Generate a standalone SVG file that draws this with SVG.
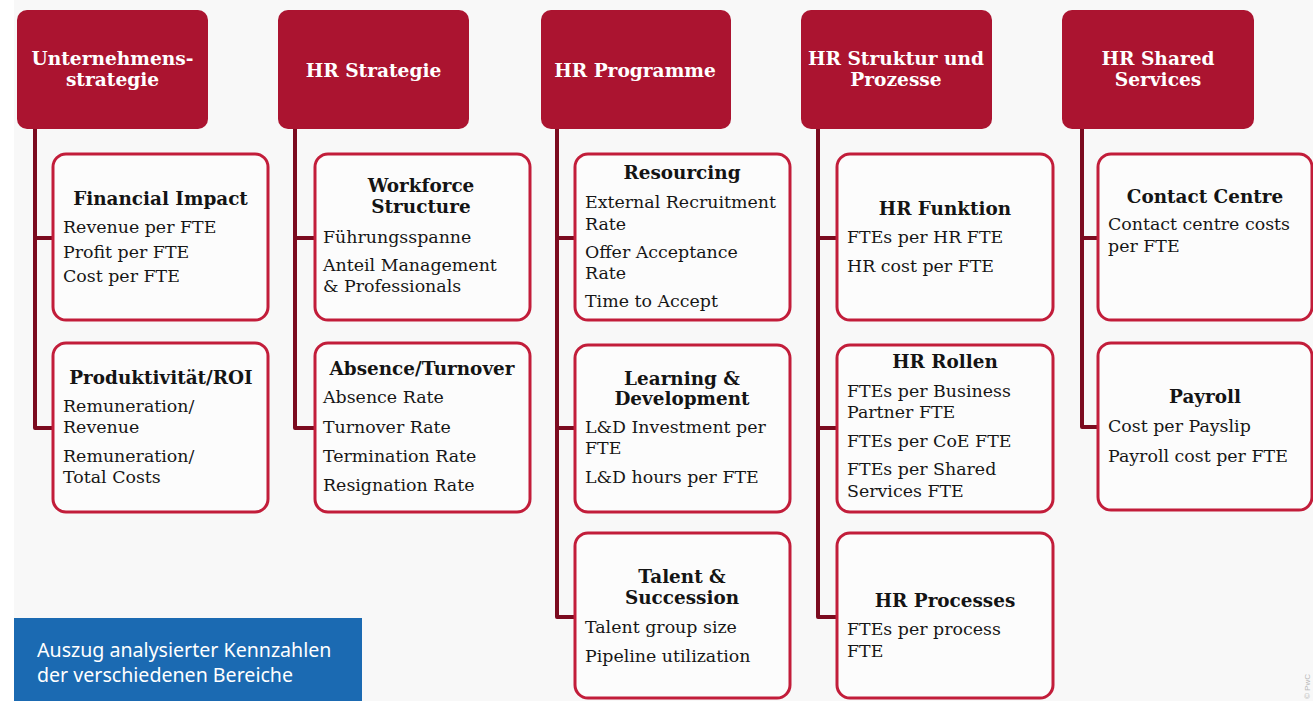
<svg xmlns="http://www.w3.org/2000/svg" width="1313" height="701" viewBox="0 0 1313 701">
  <style>
    .head rect { fill: #ab1430; }
    .head text { fill: #ffffff; font-family: "DejaVu Serif", "Liberation Serif", serif; font-weight: bold; font-size: 18.6px; text-anchor: middle; }
    .card rect { fill: #fcfcfc; stroke: #c21d3a; stroke-width: 3; }
    .card .t { fill: #141414; font-family: "DejaVu Serif", "Liberation Serif", serif; font-weight: bold; font-size: 18.4px; text-anchor: middle; }
    .card .b { fill: #161616; font-family: "DejaVu Serif", "Liberation Serif", serif; font-size: 17.4px; }
    .links path { fill: none; stroke: #7b0b1f; stroke-width: 4; stroke-linejoin: round; }
    .note rect { fill: #1b6ab2; }
    .note text { fill: #ffffff; font-family: "Noto Sans", "Open Sans", sans-serif; font-size: 19.6px; }
  </style>

  <!-- page background -->
  <rect x="0" y="0" width="1313" height="701" fill="#f8f8f8"/>
  <rect x="0" y="0" width="14" height="701" fill="#ffffff"/>

  <!-- connectors: one trunk per column with stubs to each card -->
  <g class="links" id="connectors">
    <path d="M35,129 V428 H53 M35,238 H53"/>
    <path d="M295,129 V428 H315 M295,238 H315"/>
    <path d="M557,129 V617 H575 M557,238 H575 M557,428 H575"/>
    <path d="M818,129 V617 H837 M818,238 H837 M818,428 H837"/>
    <path d="M1082,129 V427 H1098 M1082,238 H1098"/>
  </g>

  <!-- column headers -->
  <g class="head" id="h-unternehmensstrategie">
    <rect x="17" y="10" width="191" height="119" rx="10"/>
    <text x="112.5" y="65">Unternehmens-</text>
    <text x="112.5" y="86">strategie</text>
  </g>
  <g class="head" id="h-hr-strategie">
    <rect x="278" y="10" width="191" height="119" rx="10"/>
    <text x="373.5" y="77">HR Strategie</text>
  </g>
  <g class="head" id="h-hr-programme">
    <rect x="541" y="10" width="190" height="119" rx="10"/>
    <text x="635" y="77">HR Programme</text>
  </g>
  <g class="head" id="h-hr-struktur">
    <rect x="801" y="10" width="191" height="119" rx="10"/>
    <text x="896" y="65">HR Struktur und</text>
    <text x="896" y="86">Prozesse</text>
  </g>
  <g class="head" id="h-hr-shared-services">
    <rect x="1062" y="10" width="192" height="119" rx="10"/>
    <text x="1158" y="65">HR Shared</text>
    <text x="1158" y="86">Services</text>
  </g>

  <!-- Unternehmensstrategie cards -->
  <g class="card" id="c-financial-impact">
    <rect x="53" y="154" width="215" height="166" rx="13"/>
    <text class="t" x="160.5" y="205">Financial Impact</text>
    <text class="b" x="63" y="233">Revenue per FTE</text>
    <text class="b" x="63" y="258">Profit per FTE</text>
    <text class="b" x="63" y="282">Cost per FTE</text>
  </g>
  <g class="card" id="c-produktivitaet">
    <rect x="53" y="343" width="215" height="169" rx="13"/>
    <text class="t" x="161" y="384">Produktivität/ROI</text>
    <text class="b" x="63" y="412">Remuneration/</text>
    <text class="b" x="63" y="433">Revenue</text>
    <text class="b" x="63" y="462">Remuneration/</text>
    <text class="b" x="63" y="483">Total Costs</text>
  </g>

  <!-- HR Strategie cards -->
  <g class="card" id="c-workforce-structure">
    <rect x="315" y="154" width="215" height="166" rx="13"/>
    <text class="t" x="421" y="192">Workforce</text>
    <text class="t" x="421" y="213">Structure</text>
    <text class="b" x="323" y="243">Führungsspanne</text>
    <text class="b" x="323" y="271">Anteil Management</text>
    <text class="b" x="323" y="292">&amp; Professionals</text>
  </g>
  <g class="card" id="c-absence-turnover">
    <rect x="315" y="343" width="215" height="169" rx="13"/>
    <text class="t" x="422" y="375">Absence/Turnover</text>
    <text class="b" x="323" y="403">Absence Rate</text>
    <text class="b" x="323" y="433">Turnover Rate</text>
    <text class="b" x="323" y="462">Termination Rate</text>
    <text class="b" x="323" y="491">Resignation Rate</text>
  </g>

  <!-- HR Programme cards -->
  <g class="card" id="c-resourcing">
    <rect x="575" y="154" width="215" height="166" rx="13"/>
    <text class="t" x="682" y="179">Resourcing</text>
    <text class="b" x="585" y="208">External Recruitment</text>
    <text class="b" x="585" y="230">Rate</text>
    <text class="b" x="585" y="258">Offer Acceptance</text>
    <text class="b" x="585" y="279">Rate</text>
    <text class="b" x="585" y="307">Time to Accept</text>
  </g>
  <g class="card" id="c-learning-development">
    <rect x="575" y="345" width="215" height="167" rx="13"/>
    <text class="t" x="682" y="385">Learning &amp;</text>
    <text class="t" x="682" y="405">Development</text>
    <text class="b" x="585" y="433">L&amp;D Investment per</text>
    <text class="b" x="585" y="454">FTE</text>
    <text class="b" x="585" y="483">L&amp;D hours per FTE</text>
  </g>
  <g class="card" id="c-talent-succession">
    <rect x="575" y="533" width="215" height="165" rx="13"/>
    <text class="t" x="682" y="583">Talent &amp;</text>
    <text class="t" x="682" y="604">Succession</text>
    <text class="b" x="585" y="633">Talent group size</text>
    <text class="b" x="585" y="662">Pipeline utilization</text>
  </g>

  <!-- HR Struktur und Prozesse cards -->
  <g class="card" id="c-hr-funktion">
    <rect x="837" y="154" width="216" height="166" rx="13"/>
    <text class="t" x="945" y="215">HR Funktion</text>
    <text class="b" x="847" y="243">FTEs per HR FTE</text>
    <text class="b" x="847" y="272">HR cost per FTE</text>
  </g>
  <g class="card" id="c-hr-rollen">
    <rect x="837" y="345" width="216" height="167" rx="13"/>
    <text class="t" x="945" y="368">HR Rollen</text>
    <text class="b" x="847" y="397">FTEs per Business</text>
    <text class="b" x="847" y="418">Partner FTE</text>
    <text class="b" x="847" y="447">FTEs per CoE FTE</text>
    <text class="b" x="847" y="475">FTEs per Shared</text>
    <text class="b" x="847" y="497">Services FTE</text>
  </g>
  <g class="card" id="c-hr-processes">
    <rect x="837" y="533" width="216" height="165" rx="13"/>
    <text class="t" x="945" y="607">HR Processes</text>
    <text class="b" x="847" y="635">FTEs per process</text>
    <text class="b" x="847" y="657">FTE</text>
  </g>

  <!-- HR Shared Services cards -->
  <g class="card" id="c-contact-centre">
    <rect x="1098" y="154" width="214" height="166" rx="13"/>
    <text class="t" x="1205" y="203">Contact Centre</text>
    <text class="b" x="1108" y="230">Contact centre costs</text>
    <text class="b" x="1108" y="252">per FTE</text>
  </g>
  <g class="card" id="c-payroll">
    <rect x="1098" y="343" width="214" height="167" rx="13"/>
    <text class="t" x="1205" y="403">Payroll</text>
    <text class="b" x="1108" y="432">Cost per Payslip</text>
    <text class="b" x="1108" y="462">Payroll cost per FTE</text>
  </g>

  <!-- caption panel -->
  <g class="note" id="caption">
    <rect x="14" y="618" width="348" height="83"/>
    <text x="37" y="657">Auszug analysierter Kennzahlen</text>
    <text x="37" y="682">der verschiedenen Bereiche</text>
  </g>

  <!-- copyright mark -->
  <text x="1310" y="699" transform="rotate(-90 1310 699)" fill="#b8b8b8" font-family="'Liberation Sans', sans-serif" font-size="8">© PwC</text>
</svg>
